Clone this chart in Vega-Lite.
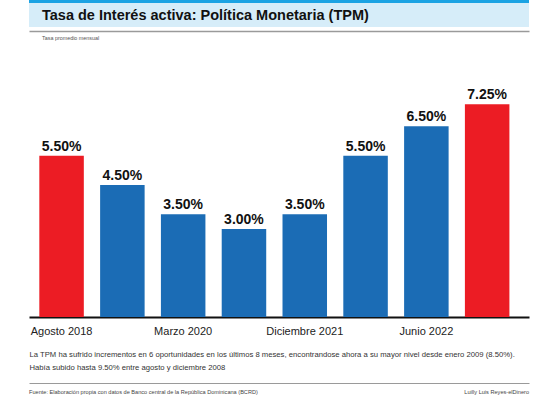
{
  "$schema": "https://vega.github.io/schema/vega-lite/v6.json",
  "background": "white",
  "padding": {"left": 29, "right": 30, "top": 0, "bottom": 0},
  "config": {
    "view": {"stroke": null},
    "font": "Liberation Sans, Arial, sans-serif"
  },
  "spacing": 5,
  "vconcat": [
    {
      "spacing": 0,
      "vconcat": [
        {
          "width": 500,
          "height": 3,
          "data": {"values": [{"seccion": "cabecera"}]},
          "mark": {"type": "rect", "color": "#1ca3e3"},
          "encoding": {
            "x": {"field": "seccion", "type": "nominal", "axis": null,
                  "scale": {"paddingInner": 0, "paddingOuter": 0}}
          }
        },
        {
          "width": 500,
          "height": 24,
          "title": {
            "text": "Tasa de Interés activa: Política Monetaria (TPM)",
            "anchor": "start",
            "frame": "group",
            "orient": "top",
            "offset": -20,
            "dx": 13,
            "fontSize": 14.5,
            "fontWeight": "bold",
            "font": "Liberation Sans, Arial, sans-serif",
            "color": "#111111"
          },
          "data": {"values": [{"seccion": "cabecera"}]},
          "mark": {"type": "rect", "color": "#d6edf9"},
          "encoding": {
            "x": {
              "field": "seccion", "type": "nominal",
              "scale": {"paddingInner": 0, "paddingOuter": 0},
              "axis": {"orient": "bottom", "labels": false, "ticks": false, "title": null,
                       "domainColor": "#9a9a9a", "domainWidth": 1.5, "offset": 4}
            }
          }
        }
      ]
    },
    {
      "spacing": 12,
      "vconcat": [
        {
          "width": 500,
          "height": 264,
          "title": {
            "text": "Tasa promedio mensual",
            "anchor": "start",
            "frame": "group",
            "offset": 11.5,
            "dx": 13,
            "fontSize": 5.4,
            "fontWeight": "normal",
            "font": "Liberation Sans, Arial, sans-serif",
            "color": "#555555"
          },
          "data": {
            "values": [
              {"fecha": "Agosto 2018", "tasa": 0.055},
              {"fecha": "Agosto 2019", "tasa": 0.045},
              {"fecha": "Marzo 2020", "tasa": 0.035},
              {"fecha": "Agosto 2020", "tasa": 0.03},
              {"fecha": "Diciembre 2021", "tasa": 0.035},
              {"fecha": "Abril 2022", "tasa": 0.055},
              {"fecha": "Junio 2022", "tasa": 0.065},
              {"fecha": "Julio 2022", "tasa": 0.0725}
            ]
          },
          "encoding": {
            "x": {
              "field": "fecha", "type": "nominal", "sort": null,
              "scale": {"paddingInner": 0.268, "paddingOuter": 0.246, "align": 0.345},
              "axis": {
                "values": ["Agosto 2018", "Marzo 2020", "Diciembre 2021", "Junio 2022"],
                "labelAngle": 0,
                "ticks": false,
                "domainColor": "#111111",
                "domainWidth": 2,
                "labelFont": "Liberation Sans, Arial, sans-serif",
                "labelFontSize": 11,
                "labelColor": "#222222",
                "labelPadding": 8,
                "title": [
                  "La TPM ha sufrido incrementos en 6 oportunidades en los últimos 8 meses, encontrandose ahora a su mayor nivel desde enero 2009 (8.50%).",
                  "Había subido hasta 9.50% entre agosto y diciembre 2008"
                ],
                "titleAnchor": "start",
                "titleAlign": "left",
                "titleFont": "Liberation Sans, Arial, sans-serif",
                "titleFontSize": 7.7,
                "titleFontWeight": "normal",
                "titleColor": "#333333",
                "titleLineHeight": 13,
                "titlePadding": 14
              }
            },
            "y": {
              "field": "tasa", "type": "quantitative",
              "scale": {"domain": [0, 0.09]},
              "axis": null
            }
          },
          "layer": [
            {
              "mark": {"type": "bar"},
              "encoding": {
                "color": {
                  "condition": {"test": "datum.fecha === 'Agosto 2018' || datum.fecha === 'Julio 2022'", "value": "#ec1c24"},
                  "value": "#1b6cb5"
                }
              }
            },
            {
              "mark": {"type": "text", "baseline": "bottom", "dy": -2, "fontSize": 14,
                       "fontWeight": "bold", "font": "Liberation Sans, Arial, sans-serif",
                       "color": "#111111"},
              "encoding": {"text": {"field": "tasa", "format": ".2%"}}
            }
          ]
        },
        {
          "width": 500,
          "height": 8,
          "encoding": {
            "x": {
              "field": "credito", "type": "nominal", "sort": null,
              "scale": {"type": "point", "padding": 0},
              "axis": {"orient": "top", "labels": false, "ticks": false, "title": null,
                       "domainColor": "#9a9a9a", "domainWidth": 1, "offset": 5}
            },
            "text": {"field": "credito"}
          },
          "layer": [
            {
              "data": {"values": [{"credito": "Fuente: Elaboración propia con datos de Banco central de la República Dominicana (BCRD)"}]},
              "mark": {"type": "text", "align": "left", "fontSize": 5.6,
                       "font": "Liberation Sans, Arial, sans-serif", "color": "#444444"}
            },
            {
              "data": {"values": [{"credito": "Luilly Luis Reyes-elDinero"}]},
              "mark": {"type": "text", "align": "right", "fontSize": 5.6,
                       "font": "Liberation Sans, Arial, sans-serif", "color": "#444444"}
            }
          ]
        }
      ]
    }
  ]
}
